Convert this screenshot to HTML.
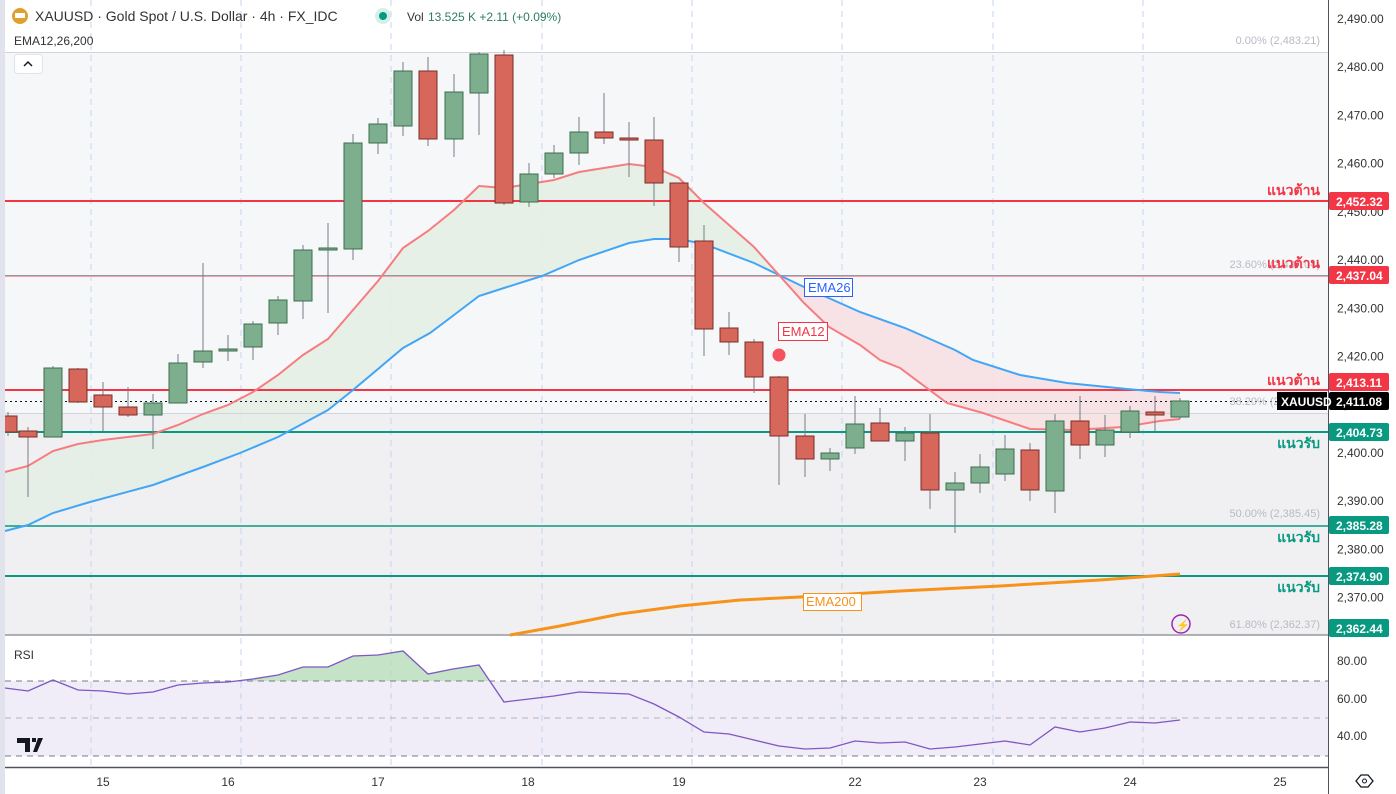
<!DOCTYPE html>
<html><head><meta charset="utf-8">
<style>
body{margin:0;width:1396px;height:794px;overflow:hidden;background:#fff;font-family:"Liberation Sans","Noto Sans CJK SC",sans-serif;}
svg{position:absolute;left:0;top:0}
</style></head><body>
<svg id="s" width="1396" height="794" xmlns="http://www.w3.org/2000/svg" font-family="Liberation Sans, sans-serif">
<rect x="0" y="0" width="1396" height="794" fill="#fff"/>
<rect x="5" y="52" width="1323" height="361" fill="#f6f7f9"/>
<rect x="5" y="413" width="1323" height="222" fill="#f0f0f3"/>
<rect x="5" y="681" width="1323" height="75" fill="#f0ecf8"/>
<g id="grid" stroke="#c5d3ef" stroke-dasharray="6,5" stroke-width="1"></g>
<g id="fills"></g>
<g id="hl"></g>
<g id="lines" fill="none"></g>
<g id="candles"></g>
<rect x="0" y="0" width="5" height="794" fill="#e0e3eb"/>
<g id="labels"></g>
</svg>
<script>
const NS="http://www.w3.org/2000/svg";
function el(p,t,a,txt){const e=document.createElementNS(NS,t);for(const k in a)e.setAttribute(k,a[k]);if(txt!==undefined)e.textContent=txt;document.getElementById(p).appendChild(e);return e;}
[91,241,391,542,692,842,993,1143].forEach(x=>el('grid','line',{x1:x,y1:0,x2:x,y2:767}));
const e12=[[5,472],[28,466],[53,451],[78,444],[103,440],[128,437],[153,434],[178,425],[203,414],[228,405],[253,392],[278,375],[303,355],[328,339],[353,310],[378,281],[403,248],[428,231],[454,210],[479,186],[504,188],[529,184],[554,180],[579,172],[604,168],[629,164],[654,167],[679,178],[704,203],[729,225],[754,247],[779,275],[804,303],[829,327],[860,345],[880,360],[900,368],[947,403],[983,413],[1030,429],[1073,430],[1123,427],[1160,421],[1180,419]];
const e26=[[5,531],[28,525],[53,513],[90,502],[153,485],[203,467],[240,453],[278,437],[328,410],[353,390],[403,348],[430,333],[450,318],[479,296],[504,288],[542,276],[579,260],[629,243],[654,239],[679,239],[704,244],[754,263],[779,275],[804,287],[860,312],[905,328],[955,350],[973,360],[1020,375],[1067,383],[1127,389],[1160,392],[1180,393]];
function interp(arr,x){for(let i=0;i<arr.length-1;i++){if(x>=arr[i][0]&&x<=arr[i+1][0]){const t=(x-arr[i][0])/(arr[i+1][0]-arr[i][0]);return arr[i][1]+t*(arr[i+1][1]-arr[i][1]);}}return arr[arr.length-1][1];}
let g=[],r=[];
for(let x=5;x<=1180;x+=1){const a=interp(e12,x),b=interp(e26,x);if(x<=779)g.push([x,a,b]);if(x>=779)r.push([x,a,b]);}
function poly(arr){return arr.map(p=>p[0]+','+p[1]).join(' ')+' '+arr.slice().reverse().map(p=>p[0]+','+p[2]).join(' ');}
el('fills','polygon',{points:poly(g),fill:'#e3efe4',opacity:0.85});
el('fills','polygon',{points:poly(r),fill:'#f7e0e2',opacity:0.9});
const rsi=[[5,688],[28,691],[53,680],[78,690],[103,691],[128,694],[153,692],[178,685],[203,683],[228,682],[253,679],[278,675],[303,667],[328,667],[353,656],[378,655],[403,651],[428,674],[453,669],[479,665],[504,702],[529,699],[554,696],[579,692],[604,693],[629,694],[654,704],[679,717],[704,732],[729,734],[754,740],[779,746],[805,749],[830,748],[855,741],[880,743],[905,742],[930,749],[955,747],[980,744],[1005,741],[1030,745],[1055,727],[1080,732],[1105,728],[1130,722],[1155,723],[1180,720]];
let gp=[];for(let x=240;x<=490;x++){const y=interp(rsi,x);if(y<681)gp.push([x,y,681]);}
el('fills','polygon',{points:poly(gp),fill:'#b5dcb9',opacity:0.8});
const H=(y,c,w,extra)=>el('hl','line',Object.assign({x1:5,y1:y,x2:1328,y2:y,stroke:c,'stroke-width':w},extra||{}));
H(52.5,'#d1d4dc',1);H(201,'#f23645',2);H(275.5,'#9598a1',1);H(276.5,'#f7a1a8',1);H(390,'#f23645',2);H(413.5,'#d1d4dc',1);
H(401.5,'#131722',1,{'stroke-dasharray':'2,3'});
H(432,'#089981',2);H(526,'#089981',1.5);H(576,'#089981',2);H(635,'#9598a1',1.5);
H(681,'#787b86',1,{'stroke-dasharray':'6,5'});H(718,'#b2b5be',1,{'stroke-dasharray':'6,5'});H(756,'#787b86',1,{'stroke-dasharray':'6,5'});
H(767.5,'#50535e',1.5);
el('hl','line',{x1:1328.5,y1:0,x2:1328.5,y2:794,stroke:'#50535e','stroke-width':1});
const pl=a=>a.map(p=>p.join(',')).join(' ');
el('lines','polyline',{points:pl(e26),stroke:'#42a5f5','stroke-width':2});
el('lines','polyline',{points:pl(e12),stroke:'#f77c80','stroke-width':2});
el('lines','polyline',{points:pl([[510,635],[560,626],[620,614],[680,606],[740,600],[800,597],[900,591],[1000,586],[1100,580],[1180,574]]),stroke:'#f7931a','stroke-width':3});
el('lines','polyline',{points:pl(rsi),stroke:'#7e57c2','stroke-width':1.3});
const C=[[8,416,432,412,436,0],[28,431,437,427,497,0],[53,368,437,366,437,1],[78,369,402,368,403,0],[103,395,407,382,431,0],[128,407,415,387,417,0],[153,403,415,394,449,1],[178,363,403,354,403,1],[203,351,362,263,368,1],[228,349,351,335,361,1],[253,324,347,321,360,1],[278,300,323,296,335,1],[303,250,301,245,319,1],[328,248,250,223,313,1],[353,143,249,134,260,1],[378,124,143,118,154,1],[403,71,126,62,136,1],[428,71,139,57,146,0],[454,92,139,74,157,1],[479,54,93,52,135,1],[504,55,203,50,205,0],[529,174,202,163,207,1],[554,153,174,145,178,1],[579,132,153,117,165,1],[604,132,138,93,144,0],[629,138,140,122,177,0],[654,140,183,117,206,0],[679,183,247,183,262,0],[704,241,329,225,356,0],[729,328,342,312,355,0],[754,342,377,339,393,0],[779,377,436,376,485,0],[805,436,459,414,477,0],[830,453,459,448,471,1],[855,424,448,396,454,1],[880,423,441,408,441,0],[905,433,441,427,461,1],[930,433,490,414,509,0],[955,483,490,472,533,1],[980,467,483,454,493,1],[1005,449,474,435,481,1],[1030,450,490,443,501,0],[1055,421,491,414,513,1],[1080,421,445,396,459,0],[1105,430,445,415,457,1],[1130,411,432,406,438,1],[1155,412,415,396,431,0],[1180,401,417,398,419,1]];
C.forEach(c=>{const [x,bt,bb,wt,wb,gr]=c;const fill=gr?'#7dae8e':'#d6675a',st=gr?'#3c6e4f':'#7a2e28';
el('candles','line',{x1:x,y1:wt,x2:x,y2:wb,stroke:'#787b86','stroke-width':1});
el('candles','rect',{x:x-9,y:bt,width:18,height:Math.max(bb-bt,2),fill:fill,stroke:st,'stroke-width':1});});
const T=(x,y,s,a)=>el('labels','text',Object.assign({x:x,y:y,'font-size':12,fill:'#131722'},a||{}),s);
el('labels','circle',{cx:20,cy:16,r:8,fill:'#e0a030'});
el('labels','rect',{x:15,y:13,width:10,height:5,fill:'#fff'});
T(35,21,'XAUUSD · Gold Spot / U.S. Dollar · 4h · FX_IDC',{'font-size':14,fill:'#333'});
el('labels','circle',{cx:383,cy:16,r:8,fill:'#d5efe9'});el('labels','circle',{cx:383,cy:16,r:4,fill:'#089981'});
T(407,21,'Vol',{'font-size':12,fill:'#333'});T(428,21,'13.525 K  +2.11 (+0.09%)',{'font-size':12,fill:'#2e7d5a'});
T(14,45,'EMA12,26,200',{'font-size':12,fill:'#333'});
el('labels','rect',{x:14.5,y:54.5,width:28,height:19,rx:3,fill:'#fff',stroke:'#e0e3eb'});
el('labels','polyline',{points:'24,66 28,62 32,66',fill:'none',stroke:'#131722','stroke-width':1.5});
T(14,659,'RSI',{'font-size':12,fill:'#333'});
el('labels','path',{d:'M17 738 h13 v14 h-5 v-9 h-8z M32 738 h4 v4 h-4z M38 738 h5 l-6 14 h-4z',fill:'#131722'});
const G={'font-size':11,fill:'#b8bbc4','text-anchor':'end'};
T(1320,44,'0.00% (2,483.21)',G);T(1320,268,'23.60% (2,437.04)',G);T(1320,405,'38.20% (2,408.90)',G);T(1320,517,'50.00% (2,385.45)',G);T(1320,628,'61.80% (2,362.37)',G);
const R={'font-size':14,'font-weight':'bold',fill:'#f23645','text-anchor':'end','font-family':'Liberation Sans, Noto Sans CJK SC, sans-serif'};
const Gr=Object.assign({},R,{fill:'#089981'});
T(1320,195,'แนวต้าน',R);T(1320,268,'แนวต้าน',R);T(1320,385,'แนวต้าน',R);
T(1320,448,'แนวรับ',Gr);T(1320,542,'แนวรับ',Gr);T(1320,592,'แนวรับ',Gr);
el('labels','rect',{x:804.5,y:278.5,width:48,height:18,fill:'#fff',stroke:'#2962ff'});T(808,292,'EMA26',{'font-size':13,fill:'#2962ff'});
el('labels','rect',{x:778.5,y:322.5,width:49,height:18,fill:'#fff',stroke:'#f23645'});T(782,336,'EMA12',{'font-size':13,fill:'#f23645'});
el('labels','circle',{cx:779,cy:355,r:6.5,fill:'#f7525f'});
el('labels','rect',{x:803.5,y:593.5,width:58,height:17,fill:'#fff',stroke:'#f7931a'});T(806,606,'EMA200',{'font-size':13,fill:'#f7931a'});
el('labels','circle',{cx:1181,cy:624,r:9,fill:'none',stroke:'#9c27b0','stroke-width':1.5});
T(1176,629,'⚡',{'font-size':11,fill:'#9c27b0'});
const ax={'font-size':12,fill:'#333'};
for(let i=0;i<=12;i++){const p=2490-i*10,y=19+i*48.22;T(1337,y+4,p.toLocaleString('en-US')+'.00',ax);}
[['80.00',661],['60.00',699],['40.00',736]].forEach(a=>T(1337,a[1]+4,a[0],ax));
const tag=(y,txt,bg)=>{el('labels','rect',{x:1329,y:y-9,width:60,height:18,rx:2,fill:bg});T(1336,y+5,txt,{'font-size':12,'font-weight':'bold',fill:'#fff'});};
tag(201,'2,452.32','#f23645');tag(275,'2,437.04','#f23645');tag(382,'2,413.11','#f23645');tag(401,'2,411.08','#000');
tag(432,'2,404.73','#089981');tag(525,'2,385.28','#089981');tag(576,'2,374.90','#089981');tag(628,'2,362.44','#089981');
el('labels','rect',{x:1277,y:392,width:50,height:18,fill:'#000'});T(1281,406,'XAUUSD',{'font-size':12,'font-weight':'bold',fill:'#fff'});
[['15',103],['16',228],['17',378],['18',528],['19',679],['22',855],['23',980],['24',1130],['25',1280]].forEach(a=>T(a[1],786,a[0],{'font-size':12,fill:'#333','text-anchor':'middle'}));
el('labels','polygon',{points:'1356,781 1361,775 1368,775 1373,781 1368,787 1361,787',fill:'none',stroke:'#131722','stroke-width':1.3});
el('labels','circle',{cx:1364.5,cy:781,r:2,fill:'none',stroke:'#131722'});
</script>
</body></html>
